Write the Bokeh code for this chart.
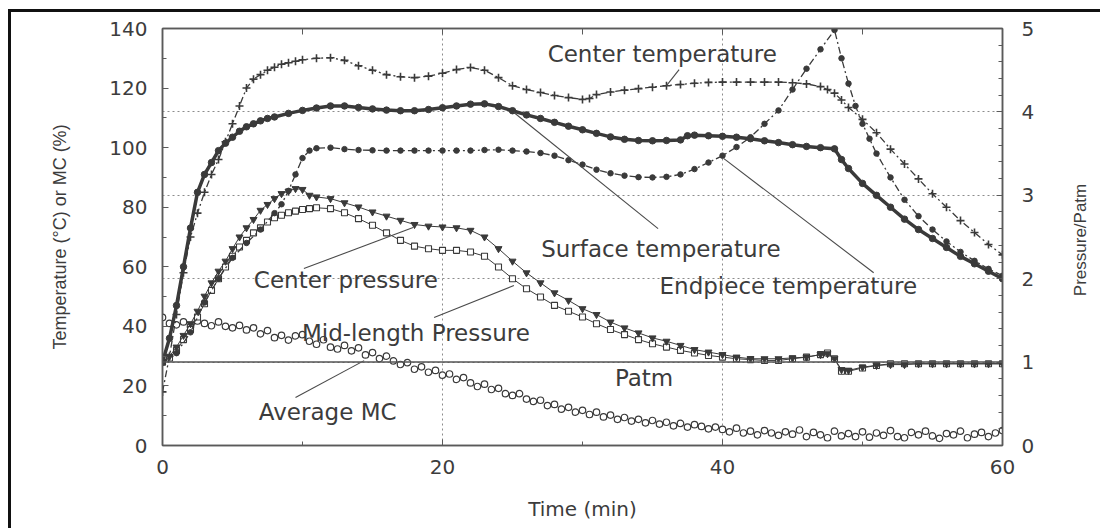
import math
from bokeh.plotting import figure
from bokeh.layouts import row
from bokeh.models import Range1d, LinearAxis, SingleIntervalTicker, Grid, Span, Label
from bokeh.core.properties import value
from bokeh.embed import file_html
from bokeh.resources import INLINE

# ---------------- data ----------------
t_center = [0, 0.5, 1, 1.5, 2, 2.5, 3, 3.5, 4, 4.5, 5, 5.5, 6, 6.5, 7, 7.5, 8, 8.5, 9, 9.5,
            10, 11, 12, 13, 14, 15, 16, 17, 18, 19, 20, 21, 22, 23, 24, 25, 26, 27, 28, 29,
            30, 30.5, 31, 32, 33, 34, 35, 36, 37, 38, 39, 40, 41, 42, 43, 44, 45, 46, 47, 47.5,
            48, 48.5, 49, 50, 51, 52, 53, 54, 55, 56, 57, 58, 59, 60]
center_temp = [18, 30, 44, 58, 70, 78, 85, 91, 96, 102, 108, 114, 120, 123, 124.5, 126, 127, 128, 128.5, 129,
               129.5, 130, 130.2, 129.3, 127.5, 126, 124.5, 123.8, 123.5, 124, 125, 126.2, 126.9, 126, 123.5, 120.8, 119.5, 118.5, 117.5, 116.8,
               116.2, 116.5, 117.8, 118.7, 119.3, 119.8, 120.3, 120.8, 121.2, 121.6, 121.9, 122, 122, 122, 122, 122, 121.8, 121.4, 120.5, 119.5,
               118.3, 116, 113.5, 109.5, 105, 99.5, 94.5, 89.5, 84.5, 80, 75.5, 71.5, 67.5, 64]

t_surface = [0, 0.5, 1, 1.5, 2, 2.5, 3, 3.5, 4, 4.5, 5, 5.5, 6, 6.5, 7, 7.5, 8, 9, 10, 11,
             12, 13, 14, 15, 16, 17, 18, 19, 20, 21, 22, 23, 24, 25, 26, 27, 28, 29, 30, 31,
             32, 33, 34, 35, 36, 37, 37.5, 38, 39, 40, 41, 42, 43, 44, 45, 46, 47, 48, 48.5, 49,
             50, 51, 52, 53, 54, 55, 56, 57, 58, 59, 60]
surface_temp = [28, 36, 47, 60, 73, 85, 91, 95, 99, 101.5, 103.5, 105.5, 107, 108, 109, 109.8, 110.3, 111.5, 112.5, 113.3,
                114, 114, 113.5, 113, 112.6, 112.4, 112.4, 112.8, 113.4, 114, 114.6, 114.7, 113.8, 112.4, 111, 109.8, 108.5, 107.2, 106, 104.8,
                103.6, 102.8, 102.4, 102.3, 102.4, 102.6, 104, 104.2, 104, 103.8, 103.5, 103, 102.3, 101.7, 101, 100.4, 100, 99.6, 96, 93,
                88, 84, 80, 76, 72.5, 69.5, 66.5, 63.5, 61, 58.5, 56]

t_endpiece = [0, 1, 2, 3, 4, 5, 6, 7, 8, 8.5, 9, 9.5, 10, 10.5, 11, 12, 13, 14, 15, 16,
              17, 18, 19, 20, 21, 22, 23, 24, 25, 26, 27, 28, 29, 30, 31, 32, 33, 34, 35, 36,
              37, 38, 39, 40, 41, 42, 43, 44, 45, 46, 47, 48, 48.5, 49, 49.5, 50, 50.5, 51, 52, 53,
              54, 55, 56, 57, 58, 59, 60]
endpiece_temp = [28, 31, 38, 48, 56, 63, 68, 72.5, 78, 81, 85.5, 91, 96.5, 99, 99.8, 100, 99.5, 99.2, 99.1, 99,
                 99, 99, 99, 99, 99, 99, 99.2, 99.3, 99, 98.7, 98.2, 97.3, 95.8, 94.3, 92.6, 91.4, 90.6, 90.1, 90, 90.2,
                 91, 92.8, 95, 97.3, 100.2, 103.5, 108, 112.5, 119.5, 126.5, 133, 139.5, 130, 121.5, 114, 108, 103, 98, 90, 82.5,
                 77, 72.5, 68.5, 65, 62, 59.3, 57]

t_press = [0, 0.5, 1, 1.5, 2, 2.5, 3, 3.5, 4, 4.5, 5, 5.5, 6, 6.5, 7, 7.5, 8, 8.5, 9, 9.5,
           10, 10.5, 11, 12, 13, 14, 15, 16, 17, 18, 19, 20, 21, 22, 23, 24, 25, 26, 27, 28,
           29, 30, 31, 32, 33, 34, 35, 36, 37, 38, 39, 40, 41, 42, 43, 44, 45, 46, 47, 47.5,
           48, 48.5, 49, 50, 51, 52, 53, 54, 55, 56, 57, 58, 59, 60]
center_pressure = [1.00, 1.07, 1.18, 1.32, 1.46, 1.61, 1.79, 1.95, 2.09, 2.21, 2.36, 2.50, 2.61, 2.71, 2.82, 2.89, 2.96, 3.02, 3.05, 3.08,
                   3.07, 3.00, 2.98, 2.96, 2.91, 2.86, 2.80, 2.75, 2.70, 2.65, 2.63, 2.62, 2.61, 2.58, 2.50, 2.36, 2.21, 2.07, 1.95, 1.83,
                   1.74, 1.64, 1.57, 1.48, 1.41, 1.35, 1.29, 1.25, 1.20, 1.15, 1.12, 1.09, 1.06, 1.04, 1.04, 1.04, 1.05, 1.06, 1.09, 1.10,
                   1.04, 0.91, 0.90, 0.94, 0.96, 0.97, 0.97, 0.98, 0.98, 0.98, 0.98, 0.98, 0.98, 0.98]
midlength_pressure = [1.00, 1.05, 1.14, 1.27, 1.39, 1.54, 1.70, 1.86, 2.00, 2.14, 2.27, 2.38, 2.46, 2.55, 2.61, 2.68, 2.73, 2.76, 2.79, 2.81,
                      2.83, 2.84, 2.85, 2.84, 2.79, 2.72, 2.64, 2.55, 2.46, 2.39, 2.36, 2.34, 2.34, 2.32, 2.27, 2.14, 2.00, 1.88, 1.78, 1.68,
                      1.61, 1.54, 1.46, 1.39, 1.33, 1.27, 1.22, 1.18, 1.14, 1.11, 1.08, 1.06, 1.04, 1.03, 1.02, 1.02, 1.04, 1.06, 1.09, 1.11,
                      1.04, 0.89, 0.89, 0.93, 0.96, 0.98, 0.98, 0.98, 0.98, 0.98, 0.98, 0.98, 0.98, 0.98]

t_mc = [i * 0.5 for i in range(121)]
average_mc = [43, 41, 40.5, 41.5, 40, 41.8, 41, 40.2, 41.5, 40,
              39.5, 40.3, 38.8, 39.5, 37.5, 38.6, 36.2, 37, 35.4, 36.8,
              37.2, 35, 34, 35.5, 33, 32.4, 33.6, 31.8, 32.8, 30.4,
              31.2, 29.2, 30, 28.4, 27.2, 27.8, 25.6, 26.4, 24.6, 25.2,
              23.6, 24, 22.2, 22.8, 21, 19.8, 20.6, 18.8, 19.2, 17.4,
              16.8, 17.4, 15.6, 14.8, 15.2, 13.4, 13.8, 12.2, 12.8, 11.2,
              11.8, 10.4, 11.2, 9.6, 10.2, 8.8, 9.4, 8.2, 8.8, 7.6,
              8.4, 7.2, 7.8, 6.6, 7.4, 6.2, 7, 6.4, 5.6, 6.2,
              5.4, 4.6, 5.8, 4.2, 4.8, 3.6, 5, 4.2, 3.4, 4.6,
              3.8, 5.2, 3, 4.4, 3.6, 2.6, 4.8, 3.2, 4, 3,
              4.6, 2.8, 4.2, 3.4, 5, 3, 2.6, 4.4, 3.6, 4.8,
              3.2, 2.4, 4, 3.6, 4.8, 2.6, 3.8, 4.4, 3, 4.2,
              5]

patm = 1.0

# annotation texts (centre x in min, centre y in temperature units)
label_text = ["Center temperature", "Surface temperature", "Endpiece temperature",
              "Center pressure", "Mid-length Pressure", "Patm", "Average MC"]
label_x = [35.7, 35.6, 44.7, 13.1, 18.1, 34.4, 11.8]
label_y = [131.6, 66.1, 53.7, 55.4, 37.9, 22.5, 11.1]
# leader lines
lead_x0 = [36.9, 35.4, 50.8, 10.1, 19.4, 9.5]
lead_y0 = [126.2, 72.8, 58.0, 59.4, 43.0, 16.1]
lead_x1 = [36.0, 25.1, 40.1, 17.9, 25.1, 14.4]
lead_y1 = [120.8, 111.8, 96.3, 73.2, 53.7, 28.5]
# right-axis title (drawn in a narrow side panel; y in temperature units)
right_title = "Pressure/Patm"
right_title_y = 69.0

# ---------------- figure ----------------
INK = "#3a3a3a"
AX = "#5a5a5a"
TXT = "#3c3c3c"

p = figure(width=1049, height=516, x_range=Range1d(0, 60), y_range=Range1d(0, 140),
           output_backend="svg", toolbar_location=None,
           min_border_left=151, min_border_right=58, min_border_top=16, min_border_bottom=83)
p.extra_y_ranges = {"p": Range1d(0, 5)}
p.background_fill_color = "white"
p.border_fill_color = "white"
p.outline_line_color = AX
p.outline_line_width = 1.5


def style_axis(ax, font_size="20px"):
    ax.axis_line_color = AX
    ax.axis_line_width = 1.5
    ax.major_tick_line_color = AX
    ax.minor_tick_line_color = AX
    ax.major_tick_in = 6
    ax.major_tick_out = 0
    ax.minor_tick_in = 4
    ax.minor_tick_out = 0
    ax.major_label_text_font = "DejaVu Sans"
    ax.major_label_text_font_size = font_size
    ax.major_label_text_color = TXT
    ax.axis_label_text_font = "Liberation Sans"
    ax.axis_label_text_font_style = "normal"
    ax.axis_label_text_color = TXT


# bottom axis
xax = p.xaxis[0]
xax.ticker = SingleIntervalTicker(interval=20, num_minor_ticks=2)
style_axis(xax)
xax.major_label_standoff = 14
xax.axis_label = "Time (min)"
xax.axis_label_text_font = "DejaVu Sans"
xax.axis_label_text_font_size = "20px"
xax.axis_label_standoff = 20

# left axis
yax = p.yaxis[0]
yax.ticker = SingleIntervalTicker(interval=20, num_minor_ticks=2)
style_axis(yax)
yax.major_label_standoff = 15
yax.axis_label = "Temperature (\u00b0C) or MC (%)"
yax.axis_label_text_font_size = "18px"
yax.axis_label_standoff = 36

# right axis (pressure)
rax = LinearAxis(y_range_name="p", ticker=SingleIntervalTicker(interval=1, num_minor_ticks=5))
style_axis(rax)
rax.major_label_standoff = 19
p.add_layout(rax, "right")

# top axis (ticks only, labels not painted)
tax = LinearAxis(ticker=SingleIntervalTicker(interval=10, num_minor_ticks=0))
style_axis(tax, font_size="1px")
tax.major_label_text_color = None
tax.major_label_standoff = 0
p.add_layout(tax, "above")

# grids: vertical from x ticks, horizontal from pressure ticks
p.xgrid.grid_line_color = "#8c8c8c"
p.xgrid.grid_line_dash = "2 3"
p.xgrid.grid_line_width = 1
p.ygrid.visible = False
pgrid = Grid(dimension=1, ticker=rax.ticker, y_range_name="p",
             grid_line_color="#8c8c8c", grid_line_dash="2 3", grid_line_width=1)
p.add_layout(pgrid)

# Patm line
p.add_layout(Span(location=patm, dimension="width", y_range_name="p",
                  line_color="#555555", line_width=1.5))

# ---------------- series ----------------
p.scatter(t_mc, average_mc, marker="circle", size=6.5, fill_color="white",
          line_color=INK, line_width=1.2)

p.line(t_press, midlength_pressure, y_range_name="p", line_color=INK, line_width=1)
p.scatter(t_press, midlength_pressure, y_range_name="p", marker="square", size=6,
          fill_color="white", line_color=INK, line_width=1.1)
p.line(t_press, center_pressure, y_range_name="p", line_color=INK, line_width=1)
p.scatter(t_press, center_pressure, y_range_name="p", marker="inverted_triangle", size=7,
          fill_color=INK, line_color=INK)

p.line(t_endpiece, endpiece_temp, line_color=INK, line_width=1.3, line_dash="7 3 2 3")
p.scatter(t_endpiece, endpiece_temp, marker="circle", size=5.5, fill_color=INK, line_color=INK)

p.line(t_surface, surface_temp, line_color=INK, line_width=3.5)
p.scatter(t_surface, surface_temp, marker="circle", size=6.5, fill_color=INK, line_color=INK)

p.line(t_center, center_temp, line_color=INK, line_width=1.3, line_dash="7 3 2 3")
p.scatter(t_center, center_temp, marker="cross", size=8, line_color=INK, line_width=1.6)

p.segment(x0=lead_x0, y0=lead_y0, x1=lead_x1, y1=lead_y1, line_color="#4a4a4a", line_width=1.1)
for txt, lx, ly in zip(label_text, label_x, label_y):
    p.add_layout(Label(x=lx, y=ly, text=txt, text_font="DejaVu Sans", text_font_size="23px",
                       text_color=TXT, text_align="center", text_baseline="middle"))

# narrow side panel carrying the right-axis title (reads bottom-to-top)
p2 = figure(width=40, height=516, x_range=Range1d(0, 1), y_range=p.y_range,
            output_backend="svg", toolbar_location=None,
            x_axis_location=None, y_axis_location=None,
            min_border_left=0, min_border_right=0, min_border_top=16, min_border_bottom=83)
p2.outline_line_color = None
p2.xgrid.visible = False
p2.ygrid.visible = False
p2.background_fill_color = "white"
p2.border_fill_color = "white"
p2.text(x=[0.5], y=[right_title_y], text=[right_title], angle=math.pi / 2,
        text_font=value("Liberation Sans"), text_font_size="17px", text_color=TXT,
        text_align="center", text_baseline="middle")

layout = row(p, p2, spacing=0,
             styles={"margin-left": "8px", "margin-top": "9px",
                     "border-top": "3px solid #111", "border-left": "3px solid #111"})

open("out.html", "w").write(file_html(layout, INLINE))
